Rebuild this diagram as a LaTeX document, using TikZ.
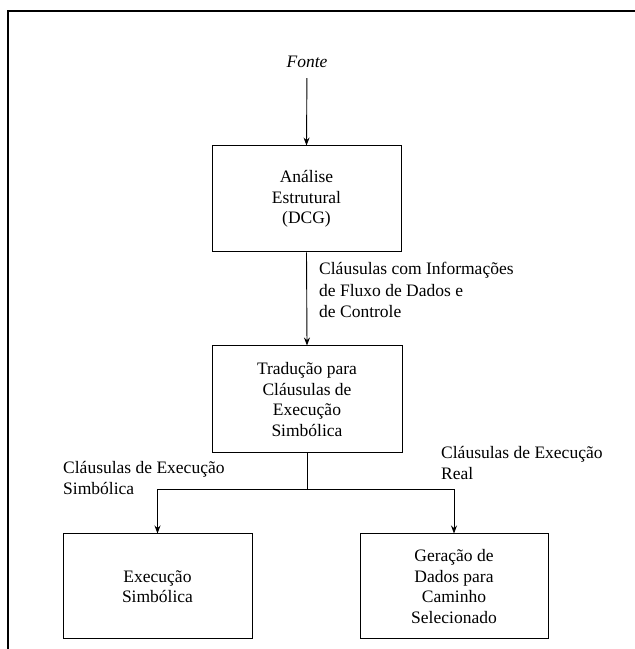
\documentclass[tikz,border=0pt]{standalone}
\usepackage{fontspec}
\setmainfont{Liberation Serif}
\usetikzlibrary{arrows.meta}
\begin{document}
\begin{tikzpicture}[x=1pt,y=1pt,
  stepbox/.style={draw,line width=1pt,align=center,inner sep=0pt,
    font=\fontsize{17.5}{20.5}\selectfont},
  lbl/.style={align=left,inner sep=0pt,anchor=north west,
    font=\fontsize{17.5}{21.5}\selectfont},
  arr/.style={line width=0.9pt,-{Stealth[length=8pt,width=6pt]}},
  conn/.style={line width=0.9pt}]
\useasboundingbox (0,0) rectangle (635,649);
% frame
\draw[line width=1.6pt] (8,0) -- (8,638) -- (636,638);
% nodes
\node[inner sep=0pt,font=\fontsize{17.5}{20.5}\selectfont\itshape] (fonte) at (307,587) {Fonte};
\node[stepbox,minimum width=189pt,minimum height=106pt] (b1) at (306.5,450) {Análise\\Estrutural\\(DCG)};
\node[stepbox,minimum width=190pt,minimum height=107pt] (b2) at (307,249.5) {Tradução para\\Cláusulas de\\Execução\\Simbólica};
\node[stepbox,minimum width=189pt,minimum height=105pt] (b3) at (157.5,62.5) {Execução\\Simbólica};
\node[stepbox,minimum width=188pt,minimum height=105pt] (b4) at (454,62.5) {Geração de\\Dados para\\Caminho\\Selecionado};
% labels
\node[lbl] (l1) at (319,387) {Cláusulas com Informações\\de Fluxo de Dados e\\de Controle};
\node[lbl] (l2) at (63,188) {Cláusulas de Execução\\Simbólica};
\node[lbl] (l3) at (441,203) {Cláusulas de Execução\\Real};
% connectors
\coordinate (split) at (307,160);
\draw[arr,shorten <=10pt] (fonte.south) -- (b1.north);
\draw[arr] (b1.south) -- (b2.north);
\draw[conn] (b2.south) -- (split);
\draw[arr] (split) -| (b3.north);
\draw[arr] (split) -| (b4.north);
\end{tikzpicture}
\end{document}
